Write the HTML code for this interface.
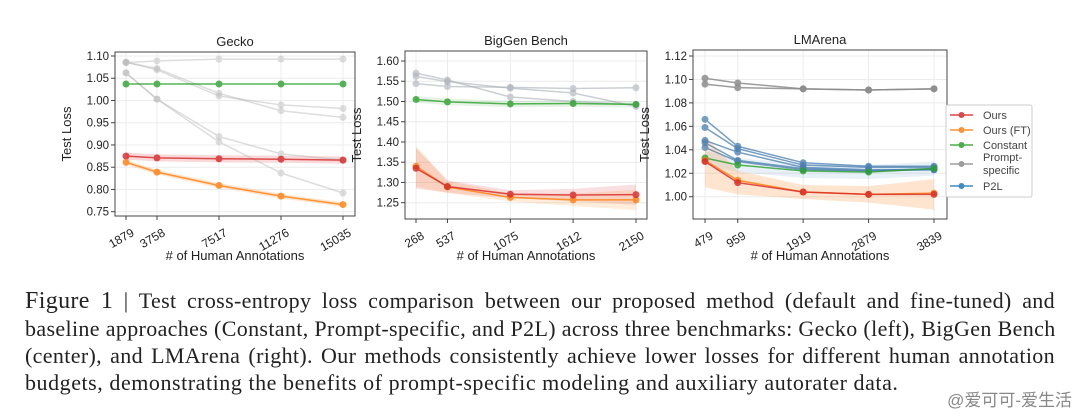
<!DOCTYPE html>
<html><head><meta charset="utf-8"><style>
body{margin:0;background:#fff;width:1080px;height:417px;overflow:hidden;position:relative;font-family:"Liberation Sans","DejaVu Sans",sans-serif}
#cap{position:absolute;left:25px;top:287px;width:1030px;font-family:"Liberation Serif",serif;font-size:22px;letter-spacing:0.35px;line-height:27px;color:#222}
#cap div{text-align:justify;text-align-last:justify;white-space:nowrap}
#cap div.last{text-align-last:left;letter-spacing:0.55px}
#cap b{font-weight:normal;font-size:24px}
#wm{position:absolute;right:8px;bottom:6px;font-family:"Liberation Sans","Noto Sans CJK SC",sans-serif;font-size:17px;color:#888}
</style></head><body>
<svg id="chart" width="1080" height="280" style="position:absolute;left:0;top:0"></svg>
<div id="cap">
<div><b>Figure 1</b> | Test cross-entropy loss comparison between our proposed method (default and fine-tuned) and</div>
<div>baseline approaches (Constant, Prompt-specific, and P2L) across three benchmarks: Gecko (left), BigGen Bench</div>
<div>(center), and LMArena (right). Our methods consistently achieve lower losses for different human annotation</div>
<div class="last">budgets, demonstrating the benefits of prompt-specific modeling and auxiliary autorater data.</div>
</div>
<div id="wm">@爱可可-爱生活</div>
<script>
const geckoX=[1879,3758,7517,11276,15035];
const geckoOurs=[0.875,0.871,0.869,0.868,0.866];
const geckoFT=[0.861,0.839,0.809,0.785,0.766];
const geckoConst=[1.037,1.037,1.037,1.037,1.037];
const geckoPrompt=[[1.085,1.089,1.093,1.093,1.093],[1.086,1.072,1.016,0.977,0.962],[1.086,1.069,1.010,0.990,0.982],[1.062,1.003,0.907,0.837,0.792],[1.062,1.003,0.919,0.880,0.866]];
const geckoYTicks=[0.75,0.80,0.85,0.90,0.95,1.00,1.05,1.10];
const bigX=[268,537,1075,1612,2150];
const bigOurs=[1.335,1.290,1.271,1.269,1.270];
const bigFT=[1.340,1.289,1.263,1.257,1.257];
const bigConst=[1.505,1.499,1.494,1.495,1.493];
const bigPrompt=[[1.570,1.553,1.511,1.500,1.492],[1.562,1.549,1.533,1.521,1.488],[1.544,1.537,1.535,1.532,1.534]];
const bigBand=[0.05,0.015,0.01,0.015,0.025];
const bigYTicks=[1.25,1.30,1.35,1.40,1.45,1.50,1.55,1.60];
const lmX=[479,959,1919,2879,3839];
const lmOurs=[1.030,1.012,1.004,1.002,1.002];
const lmFT=[1.031,1.014,1.004,1.002,1.003];
const lmConst=[1.033,1.027,1.022,1.021,1.024];
const lmPrompt=[[1.101,1.097,1.092,1.091,1.092],[1.096,1.093,1.092,1.091,1.092]];
const lmP2L=[[1.066,1.043,1.029,1.026,1.026],[1.059,1.041,1.027,1.025,1.025],[1.048,1.038,1.025,1.023,1.023],[1.046,1.031,1.024,1.022,1.024],[1.042,1.030,1.023,1.022,1.023]];
const lmBand=[0.022,0.01,0.006,0.007,0.013];
const lmYTicks=[1.00,1.02,1.04,1.06,1.08,1.10,1.12];

const C={ours:'#d62728',ft:'#ff7f0e',cst:'#2ca02c',pr:'#8c8c8c',p2l:'#1f77b4'};
const svg=document.getElementById('chart');
const NS='http://www.w3.org/2000/svg';
function el(t,a,p){const e=document.createElementNS(NS,t);for(const k in a)e.setAttribute(k,a[k]);(p||svg).appendChild(e);return e;}

function panel(cfg){
  const g=el('g',{});
  
  
  const [x0,x1]=cfg.xr,[y0,y1]=cfg.yr;
  const sx=v=>cfg.px0+(v-x0)/(x1-x0)*(cfg.px1-cfg.px0);
  const sy=v=>cfg.py0+(v-y0)/(y1-y0)*(cfg.py1-cfg.py0);
  cfg.yt.forEach(t=>{el('line',{x1:cfg.L,x2:cfg.R,y1:sy(t),y2:sy(t),stroke:'#ececec','stroke-width':1},g);
    const tx=el('text',{x:cfg.L-6,y:sy(t)+4,'text-anchor':'end','font-size':11.5,fill:'#222'},g);tx.textContent=t.toFixed(2);
    });
  cfg.x.forEach(t=>{el('line',{x1:sx(t),x2:sx(t),y1:cfg.T,y2:cfg.B,stroke:'#ececec'},g);
    el('line',{x1:sx(t),x2:sx(t),y1:cfg.B,y2:cfg.B+4,stroke:'#444'},g);
    const ax=sx(t)+9,ay=cfg.B+19;
    const tx=el('text',{x:ax,y:ay,'text-anchor':'end','font-size':12,fill:'#222',transform:`rotate(-30 ${ax} ${ay})`},g);tx.textContent=t;
    });
  cfg.yt.forEach(t=>el('line',{x1:cfg.L-4,x2:cfg.L,y1:sy(t),y2:sy(t),stroke:'#444'},g));
  function band(vals,w,col,op){let d='';vals.forEach((v,i)=>d+=(i?'L':'M')+sx(cfg.x[i])+','+sy(v+w[i]));
    for(let i=vals.length-1;i>=0;i--)d+='L'+sx(cfg.x[i])+','+sy(vals[i]-w[i]);
    const p=el('path',{d:d+'Z',fill:col,opacity:op},g);}
  function series(vals,col,op,nm){const pts=vals.map((v,i)=>sx(cfg.x[i])+','+sy(v)).join(' ');
    const s=el('g',{opacity:op},g);
    el('polyline',{points:pts,fill:'none',stroke:col,'stroke-width':1.5},s);
    vals.forEach((v,i)=>el('circle',{cx:sx(cfg.x[i]),cy:sy(v),r:3.5,fill:col},s));}
  cfg.bands.forEach(b=>band(b[0],b[1],b[2],b[3]));
  cfg.series.forEach(s=>series(s[0],s[1],s[2],s[3]));
  el('rect',{x:cfg.L,y:cfg.T,width:cfg.R-cfg.L,height:cfg.B-cfg.T,fill:'none',stroke:'#444','stroke-width':1},g);
  const ti=el('text',{x:(cfg.L+cfg.R)/2,y:cfg.T-6,'text-anchor':'middle','font-size':13,fill:'#222'},g);ti.textContent=cfg.title;
  
  const xl=el('text',{x:(cfg.L+cfg.R)/2,y:260,'text-anchor':'middle','font-size':13,fill:'#222'},g);xl.textContent='# of Human Annotations';
  
  const yx=cfg.L-44,yy=(cfg.T+cfg.B)/2;
  const yl=el('text',{x:yx,y:yy,'text-anchor':'middle','font-size':13,fill:'#222',transform:`rotate(-90 ${yx} ${yy})`},g);yl.textContent='Test Loss';
  
}
const flat=(n,w)=>Array(n).fill(w);
panel({name:'gecko',title:'Gecko',L:115,R:355,T:52,B:216,px0:126,px1:343,xr:[1879,15035],py0:56,py1:211.7,yr:[1.10,0.75],x:geckoX,yt:geckoYTicks,
 bands:[[geckoOurs,flat(5,0.008),C.ours,0.18],[geckoFT,flat(5,0.005),C.ft,0.2]],
 series:[...geckoPrompt.map(s=>[s,'#b5b5b5',0.45,'prompt-specific-line']),[geckoConst,C.cst,0.8,'constant-line'],[geckoOurs,C.ours,0.8,'ours-line'],[geckoFT,C.ft,0.8,'ours-ft-line']]});
panel({name:'biggen',title:'BigGen Bench',L:405,R:647,T:51,B:219,px0:416,px1:636,xr:[268,2150],py0:61,py1:202.7,yr:[1.60,1.25],x:bigX,yt:bigYTicks,
 bands:[[bigOurs,bigBand,C.ours,0.15],[bigFT,bigBand,C.ft,0.15],[bigConst,flat(5,0.008),C.cst,0.12]],
 series:[...bigPrompt.map(s=>[s,'#aab0b8',0.6,'prompt-specific-line']),[bigConst,C.cst,0.8,'constant-line'],[bigFT,C.ft,0.8,'ours-ft-line'],[bigOurs,C.ours,0.8,'ours-line']]});
panel({name:'lmarena',title:'LMArena',L:693,R:947,T:50,B:219,px0:705,px1:934,xr:[479,3839],py0:56,py1:196.7,yr:[1.12,1.00],x:lmX,yt:lmYTicks,
 bands:[[lmOurs,lmBand,C.ft,0.2],[lmConst,flat(5,0.006),C.p2l,0.1]],
 series:[...lmPrompt.map(s=>[s,C.pr,0.85,'prompt-specific-line']),...lmP2L.map(s=>[s,'#4a7fb0',0.75,'p2l-line']),[lmConst,C.cst,0.8,'constant-line'],[lmFT,C.ft,0.8,'ours-ft-line'],[lmOurs,C.ours,0.8,'ours-line']]});
const lg=el('g',{});


el('rect',{x:946,y:105,width:86,height:92,fill:'#fff',stroke:'#ccc',rx:2},lg);
const items=[['Ours',C.ours,115],['Ours (FT)',C.ft,130],['Constant',C.cst,145],['Prompt-',C.pr,164],['P2L',C.p2l,186]];
items.forEach(it=>{const e=el('g',{opacity:0.85},lg);
 el('line',{x1:950,x2:973,y1:it[2],y2:it[2],stroke:it[1],'stroke-width':1.5},e);el('circle',{cx:961.5,cy:it[2],r:3,fill:it[1]},e);
 const t=el('text',{x:983,y:it[2]+(it[0]==='Prompt-'?-3:4),'font-size':11,fill:'#222'},e);t.textContent=it[0];
 if(it[0]==='Prompt-'){const t2=el('text',{x:983,y:it[2]+10,'font-size':11,fill:'#222'},e);t2.textContent='specific';}});
</script>
</body></html>
